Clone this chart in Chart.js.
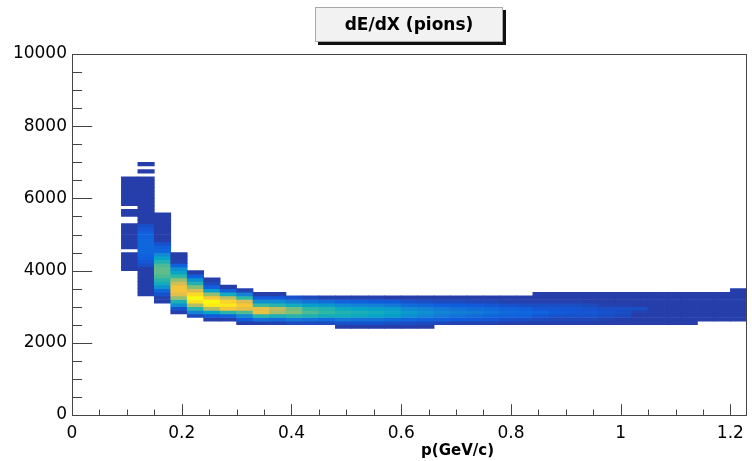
<!DOCTYPE html>
<html>
<head>
<meta charset="utf-8">
<title>dE/dX (pions)</title>
<script src="https://cdn.jsdelivr.net/npm/chart.js@4.4.1/dist/chart.umd.min.js"></script>
<style>
  html, body { margin: 0; padding: 0; background: #fff; }
</style>
</head>
<body>
<canvas id="histo" width="752" height="461"></canvas>
<script>
const histTitle = "dE/dX (pions)";
const xTitle = "p(GeV/c)";
const xTicks = [0, 0.2, 0.4, 0.6, 0.8, 1, 1.2];
const yTicks = [0, 2000, 4000, 6000, 8000, 10000];

// momentum bin centres (bin width 0.03 GeV/c)
const pCenters = [0.105, 0.135, 0.165, 0.195, 0.225, 0.255, 0.285, 0.315, 0.345, 0.375,
  0.405, 0.435, 0.465, 0.495, 0.525, 0.555, 0.585, 0.615, 0.645, 0.675,
  0.705, 0.735, 0.765, 0.795, 0.825, 0.855, 0.885, 0.915, 0.945, 0.975,
  1.005, 1.035, 1.065, 1.095, 1.125, 1.155, 1.185, 1.215];

// dE/dX bins are 100 wide; first filled bin of each column (in units of 100)
const dEdxBin = 100;
const yStart = [40, 33, 31, 28, 27, 26, 26, 25, 25, 25, 25, 25, 25,
  24, 24, 24, 24, 24, 24, 25, 25, 25, 25, 25, 25,
  25, 25, 25, 25, 25, 25, 25, 25, 25, 25, 26, 26, 26];

// bin contents, bottom to top (relative, max 100)
const counts = [
  [5,5,5,5,5,0,5,5,5,5,5,5,5,0,0,5,5,0,5,5,5,5,5,5,5,5],
  [5,5,5,5,5,5,5,5,9,11,14,15,16,16,16,16,15,14,11,9,5,5,5,5,5,5,5,5,5,5,5,5,5,0,5,0,5],
  [5,6,10,16,32,42,48,54,57,57,54,46,38,28,16,14,10,5,5,5,5,5,5,5,5],
  [5,10,30,45,65,80,85,84,76,64,50,38,30,14,6,5,5],
  [8,25,48,70,94,100,92,78,62,46,32,14,5],
  [5,12,38,70,96,100,86,64,36,14,8,5],
  [5,14,48,85,95,90,72,42,14,5],
  [5,12,28,55,80,86,78,50,25,6],
  [5,20,48,82,80,52,30,12,5],
  [6,18,44,68,72,48,30,12,5],
  [8,22,48,62,60,42,24,10],
  [8,20,45,54,50,36,20,8],
  [8,18,42,50,46,33,18,6],
  [5,10,22,42,46,40,28,15,6],
  [5,10,20,40,44,38,26,14,6],
  [5,10,20,38,42,36,25,12,6],
  [5,9,18,35,39,34,22,12,5],
  [5,9,16,30,34,28,18,10,5],
  [5,8,15,26,30,25,16,9,5],
  [7,14,22,26,22,14,8,5],
  [6,13,20,24,20,13,8,5],
  [6,12,18,22,18,12,7,5],
  [6,11,16,20,17,11,7,5],
  [5,10,15,17,15,10,6,5],
  [5,9,14,16,14,9,6,5],
  [5,8,11,15,11,9,6,5,5],
  [5,7,10,12,11,9,6,5,5],
  [5,7,10,11,11,9,6,5,5],
  [5,7,10,11,10,8,5,5,5],
  [5,6,9,10,9,6,5,5,5],
  [5,5,8,9,9,6,5,5,5],
  [5,5,5,6,9,5,5,5,5],
  [5,5,5,5,5,5,5,5,5],
  [5,5,5,5,5,5,5,5,5],
  [5,5,5,5,5,5,5,5,5],
  [5,5,5,5,5,5,5,5],
  [5,5,5,5,5,5,5,5],
  [5,5,5,5,5,5,5,5,5]
];
const zMax = 100;

// ROOT kBird palette
const birdStops = [
  [0.2082, 0.1664, 0.5293], [0.0592, 0.3599, 0.8684], [0.0780, 0.5041, 0.8385],
  [0.0232, 0.6419, 0.7914], [0.1802, 0.7178, 0.6425], [0.5301, 0.7492, 0.4662],
  [0.8186, 0.7328, 0.3499], [0.9956, 0.7862, 0.1968], [0.9764, 0.9832, 0.0539]
];

function birdColor(t) {
  t = Math.max(0, Math.min(1, t));
  const s = t * (birdStops.length - 1);
  const i = Math.min(Math.floor(s), birdStops.length - 2);
  const f = s - i;
  const c = birdStops[i].map((v, k) => Math.round(255 * (v + (birdStops[i + 1][k] - v) * f)));
  return "rgb(" + c.join(",") + ")";
}

const cells = [];
pCenters.forEach((p, i) => {
  counts[i].forEach((z, j) => {
    if (z > 0) {
      const lo = (yStart[i] + j) * dEdxBin;
      cells.push({ x: p, y: [lo, lo + dEdxBin], z: z });
    }
  });
});

// ROOT style frame with inward ticks
const framePlugin = {
  id: "rootFrame",
  afterDatasetsDraw(chart) {
    const { ctx, chartArea: a, scales } = chart;
    const xs = scales.x, ys = scales.y;
    ctx.save();
    ctx.strokeStyle = "#444";
    ctx.lineWidth = 1;
    ctx.strokeRect(Math.round(a.left) + 0.5, Math.round(a.top) + 0.5,
      Math.round(a.right - a.left) - 1, Math.round(a.bottom - a.top));
    const xMaj = 0.03 * (a.bottom - a.top), yMaj = 0.03 * (a.right - a.left);
    ctx.beginPath();
    for (let k = 0; k < xTicks.length; k++) {
      for (let m = 0; m < 4; m++) {
        const v = xTicks[k] + m * (xTicks[1] - xTicks[0]) / 4;
        if (v > xs.max) continue;
        const px = Math.round(xs.getPixelForValue(v)) + 0.5;
        const len = m === 0 ? xMaj : xMaj / 2;
        ctx.moveTo(px, a.bottom);
        ctx.lineTo(px, a.bottom - len);
      }
    }
    for (let k = 0; k < yTicks.length; k++) {
      for (let m = 0; m < 4; m++) {
        const v = yTicks[k] + m * (yTicks[1] - yTicks[0]) / 4;
        if (v > ys.max) continue;
        const py = Math.round(ys.getPixelForValue(v)) + 0.5;
        const len = m === 0 ? yMaj : yMaj / 2;
        ctx.moveTo(a.left, py);
        ctx.lineTo(a.left + len, py);
      }
    }
    ctx.stroke();

    // x axis title
    ctx.fillStyle = "#000";
    ctx.font = "bold 15px 'DejaVu Sans'";
    ctx.textAlign = "right";
    ctx.textBaseline = "middle";
    ctx.fillText(xTitle, 494, 451);
    ctx.restore();
  },
  afterDraw(chart) {
    const ctx = chart.ctx;
    const bx = 315, by = 7, bw = 188, bh = 35;
    ctx.save();
    ctx.fillStyle = "#111";
    ctx.fillRect(bx + 3, by + 3, bw, bh);
    ctx.fillStyle = "#f2f2f2";
    ctx.fillRect(bx, by, bw, bh);
    ctx.strokeStyle = "#aaa";
    ctx.lineWidth = 1;
    ctx.strokeRect(bx + 0.5, by + 0.5, bw - 1, bh - 1);
    ctx.fillStyle = "#000";
    ctx.font = "bold 17px 'DejaVu Sans'";
    ctx.textAlign = "center";
    ctx.textBaseline = "middle";
    ctx.fillText(histTitle, bx + bw / 2, by + bh / 2 + 1);
    ctx.restore();
  }
};

const tickFont = { family: "'DejaVu Sans'", size: 17 };

new Chart(document.getElementById("histo").getContext("2d"), {
  type: "bar",
  data: {
    datasets: [{
      data: cells,
      backgroundColor: c => c.raw ? birdColor(c.raw.z / zMax) : "#000",
      borderWidth: 0,
      barPercentage: 1,
      categoryPercentage: 1,
      grouped: false
    }]
  },
  options: {
    responsive: false,
    animation: false,
    devicePixelRatio: 1,
    layout: { padding: { top: 54, right: 4, left: 0, bottom: 0 } },
    plugins: {
      legend: { display: false },
      tooltip: { enabled: false },
      title: { display: false }
    },
    scales: {
      x: {
        type: "linear",
        min: 0,
        max: 1.23,
        offset: false,
        grid: { display: false, drawTicks: false },
        border: { display: false },
        ticks: { color: "#000", font: tickFont, padding: 8, maxRotation: 0, autoSkip: false,
          callback: v => String(v) },
        afterBuildTicks: s => { s.ticks = xTicks.map(v => ({ value: v })); },
        afterFit: s => { s.height = 46; }
      },
      y: {
        type: "linear",
        min: 0,
        max: 10000,
        grid: { display: false, drawTicks: false },
        border: { display: false },
        ticks: { color: "#000", font: tickFont, padding: 5, autoSkip: false,
          callback: v => String(v) },
        afterBuildTicks: s => { s.ticks = yTicks.map(v => ({ value: v })); },
        afterFit: s => { s.width = 72; }
      }
    }
  },
  plugins: [framePlugin]
});
</script>
</body>
</html>
